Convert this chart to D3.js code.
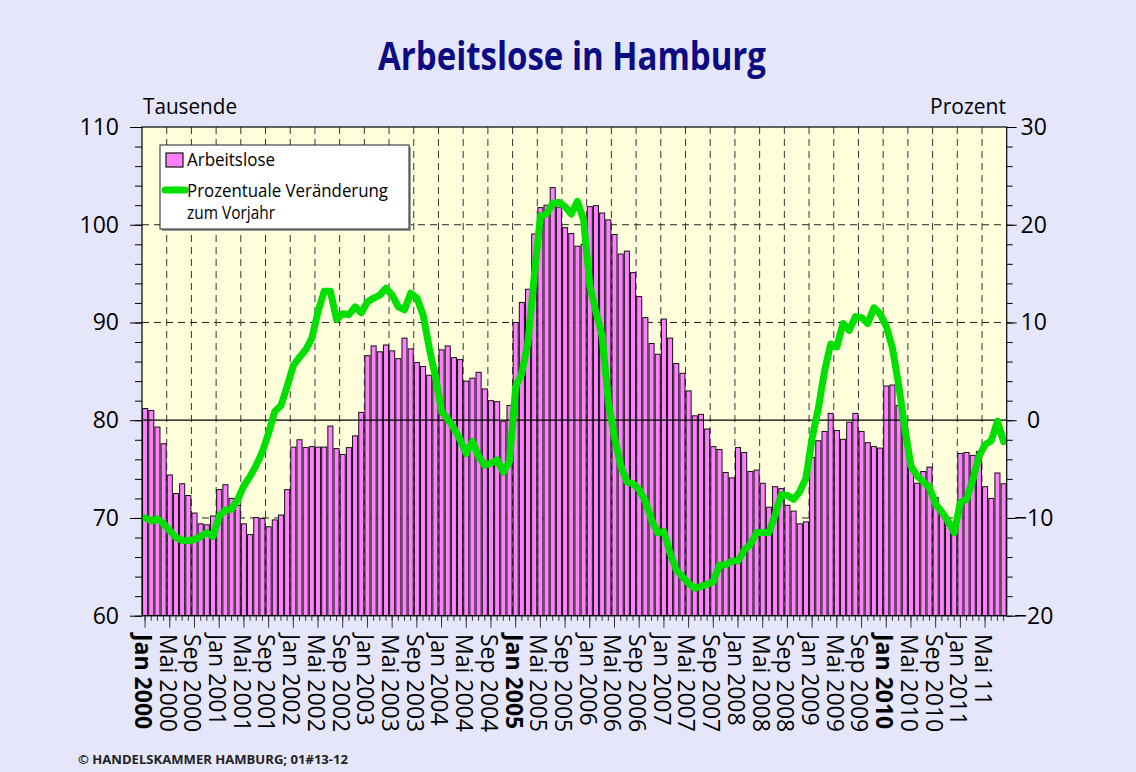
<!DOCTYPE html>
<html><head><meta charset="utf-8">
<script src="https://cdn.jsdelivr.net/npm/d3@7"></script>
<style>
html,body{margin:0;padding:0;background:#E6E6FA;}
svg{display:block;font-family:"Open Sans","Liberation Sans",Arial,sans-serif;}
</style></head>
<body>
<svg id="c" width="1136" height="772"></svg>
<script>
// Arbeitslose in Hamburg (Tausende), monthly Jan 2000 - Aug 2011
const arbeitslose = [
  81.2, 81.0, 79.3, 77.6, 74.4, 72.5, 73.5, 72.3, 70.5, 69.4, 69.3, 70.2,
  72.9, 73.4, 72.0, 71.3, 69.4, 68.3, 70.05, 69.95, 69.1, 69.8, 70.3, 72.9,
  77.25, 78.0, 77.2, 77.3, 77.25, 77.25, 79.4, 77.1, 76.5, 77.2, 78.4, 80.8,
  86.6, 87.6, 87.0, 87.7, 87.1, 86.3, 88.4, 87.3, 85.9, 85.5, 84.6, 84.2,
  87.2, 87.6, 86.4, 86.2, 84.0, 84.3, 84.9, 83.2, 82.0, 81.9, 79.9, 81.5,
  90.0, 92.05, 93.4, 99.05, 101.75, 102.0, 103.8, 101.8, 99.7, 99.1, 97.8, 98.0,
  101.85, 101.95, 101.2, 100.5, 99.0, 97.0, 97.3, 95.1, 92.65, 90.5, 87.85, 86.75,
  90.35, 88.4, 85.8, 84.8, 83.0, 80.45, 80.6, 79.1, 77.3, 77.0, 74.65, 74.1,
  77.2, 76.7, 74.75, 74.9, 73.55, 71.1, 73.2, 73.0, 71.3, 70.7, 69.4, 69.6,
  76.2, 77.9, 78.85, 80.7, 78.95, 78.05, 79.8, 80.7, 78.85, 77.7, 77.3, 77.15,
  83.5, 83.6, 81.5, 79.8, 75.2, 73.55, 74.75, 75.2, 72.1, 70.4, 69.3, 68.3,
  76.6, 76.7, 76.4, 76.8, 73.2, 72.0, 74.6, 73.5
];
// Prozentuale Veränderung zum Vorjahr
const veraenderung = [
  -10.0, -10.3, -10.1, -10.6, -11.3, -12.0, -12.3, -12.3, -12.2, -11.9, -11.5, -11.9,
  -9.8, -9.2, -9.1, -8.1, -6.7, -5.75, -4.6, -3.2, -1.3, 0.9, 1.5, 3.45,
  5.6, 6.45, 7.2, 8.4, 11.1, 13.2, 13.2, 10.3, 10.9, 10.8, 11.6, 11.0,
  12.1, 12.5, 12.8, 13.5, 12.8, 11.6, 11.3, 13.0, 12.5, 10.8, 7.4, 4.5,
  0.9, 0.1, -0.8, -2.0, -3.4, -2.2, -3.7, -4.6, -4.4, -4.05, -5.3, -4.2,
  3.4, 4.8, 8.05, 14.7, 20.9, 21.1, 22.2, 22.3, 21.85, 21.1, 22.4, 20.5,
  13.8, 11.1, 8.6, 1.9, -1.8, -4.6, -6.3, -6.5, -7.1, -8.3, -10.2, -11.5,
  -11.4, -13.6, -15.3, -16.0, -16.7, -17.2, -17.0, -16.8, -16.5, -14.8, -14.8, -14.4,
  -14.4, -13.3, -12.7, -11.5, -11.5, -11.5, -9.7, -7.6, -7.7, -8.1, -7.3, -5.9,
  -1.8, 1.2, 5.0, 7.8, 7.5, 9.9, 9.2, 10.6, 10.5, 9.9, 11.5, 10.9,
  9.6, 7.4, 3.6, -0.8, -4.7, -5.7, -6.3, -6.9, -8.6, -9.4, -10.3, -11.5,
  -8.4, -8.1, -6.1, -3.7, -2.5, -2.1, -0.1, -2.2
];
// x tick labels every 4 months
const tickLabels = [
  "Jan 2000","Mai 2000","Sep 2000","Jan 2001","Mai 2001","Sep 2001",
  "Jan 2002","Mai 2002","Sep 2002","Jan 2003","Mai 2003","Sep 2003",
  "Jan 2004","Mai 2004","Sep 2004","Jan 2005","Mai 2005","Sep 2005",
  "Jan 2006","Mai 2006","Sep 2006","Jan 2007","Mai 2007","Sep 2007",
  "Jan 2008","Mai 2008","Sep 2008","Jan 2009","Mai 2009","Sep 2009",
  "Jan 2010","Mai 2010","Sep 2010","Jan 2011","Mai 11"
];
const boldLabels = ["Jan 2000","Jan 2005","Jan 2010"];
const leftTicks = [60,70,80,90,100,110];
const rightTicks = [-20,-10,0,10,20,30];

const svg = d3.select("#c");
const X0 = 142, X1 = 1006.7, Y0 = 127, Y1 = 615.7;
const n = arbeitslose.length;
const idx = d3.range(n);

const xs = d3.scaleBand().domain(idx).range([X0, X1]).padding(0);
const xb = d3.scaleBand().domain(idx).range([X0, X1]).paddingInner(0.18).paddingOuter(0.09);
const yL = d3.scaleLinear().domain([60,110]).range([Y1, Y0]);
const yR = d3.scaleLinear().domain([-20,30]).range([Y1, Y0]);

// Title
svg.append("text").attr("x", 572).attr("y", 70).attr("text-anchor","middle")
  .attr("font-size", 40).attr("font-weight","bold").attr("fill","#0b0b82")
  .attr("textLength", 388).attr("lengthAdjust","spacingAndGlyphs")
  .text("Arbeitslose in Hamburg");

svg.append("text").attr("x", 143).attr("y", 114).attr("font-size", 22)
  .attr("textLength", 94).attr("lengthAdjust","spacingAndGlyphs").text("Tausende");
svg.append("text").attr("x", 1006).attr("y", 114).attr("font-size", 22).attr("text-anchor","end")
  .attr("textLength", 76).attr("lengthAdjust","spacingAndGlyphs").text("Prozent");

// Plot background
svg.append("rect").attr("x", X0).attr("y", Y0).attr("width", X1-X0).attr("height", Y1-Y0)
  .attr("fill", "#FFFFDC");

// Grid (behind bars)
const grid = svg.append("g").attr("stroke","#222").attr("stroke-width",1).attr("stroke-dasharray","7,5");
grid.selectAll("line.h").data([70,90,100]).join("line")
  .attr("x1", X0).attr("x2", X1).attr("y1", d=>yL(d)).attr("y2", d=>yL(d));
const labelIdx = tickLabels.map((t,i)=>i*4);
grid.selectAll("line.v").data(labelIdx.filter(i=>i>0)).join("line")
  .attr("x1", d=>xs(d)).attr("x2", d=>xs(d)).attr("y1", Y0).attr("y2", Y1)
  .attr("stroke","#333");

// Bars
svg.append("g").selectAll("rect").data(arbeitslose).join("rect")
  .attr("x", (d,i)=>xb(i)).attr("width", xb.bandwidth())
  .attr("y", d=>yL(d)).attr("height", d=>yL(60)-yL(d))
  .attr("fill","#FF80FF").attr("stroke","#111").attr("stroke-width",1);

// zero line of right axis
svg.append("line").attr("x1",X0).attr("x2",X1).attr("y1",yR(0)).attr("y2",yR(0))
  .attr("stroke","#000").attr("stroke-width",1.2);

// Green line
const line = d3.line().x((d,i)=>xs(i)+xs.bandwidth()/2).y(d=>yR(d)).curve(d3.curveLinear);
svg.append("path").datum(veraenderung).attr("d", line).attr("fill","none")
  .attr("stroke","#00E000").attr("stroke-width",7).attr("stroke-linejoin","round").attr("stroke-linecap","round");

// Frame
svg.append("rect").attr("x", X0).attr("y", Y0).attr("width", X1-X0).attr("height", Y1-Y0)
  .attr("fill","none").attr("stroke","#000").attr("stroke-width",1.2);

const FONT = "Open Sans, Liberation Sans, Arial, sans-serif";
// Left axis
const leftMinor = d3.axisLeft(yL).tickValues(d3.range(60,111,2)).tickSize(7).tickFormat("");
const leftMajor = d3.axisLeft(yL).tickValues(leftTicks).tickSize(12).tickPadding(11).tickFormat(d=>String(d));
const gl1 = svg.append("g").attr("transform",`translate(${X0},0)`).call(leftMinor);
const gl2 = svg.append("g").attr("transform",`translate(${X0},0)`).call(leftMajor);
[gl1,gl2].forEach(g=>{g.select(".domain").remove(); g.selectAll("line").attr("stroke","#000");});
gl2.selectAll("text").attr("font-size",23).attr("font-family",FONT).attr("fill","#000");

// Right axis
const rightMinor = d3.axisRight(yR).tickValues(d3.range(-20,31,2)).tickSize(6).tickFormat("");
const rightMajor = d3.axisRight(yR).tickValues(rightTicks).tickSize(10).tickPadding(6);
const gr1 = svg.append("g").attr("transform",`translate(${X1},0)`).call(rightMinor);
const gr2 = svg.append("g").attr("transform",`translate(${X1},0)`).call(rightMajor);
[gr1,gr2].forEach(g=>{g.select(".domain").remove(); g.selectAll("line").attr("stroke","#000");});
gr2.selectAll("text").attr("font-size",23).attr("font-family",FONT)
  .attr("fill","#000").attr("text-anchor","middle").attr("x", 27);

// Bottom axis ticks
const xMinor = d3.axisBottom(xs).tickValues(idx).tickSize(5).tickFormat("");
const xMajor = d3.axisBottom(xs).tickValues(labelIdx).tickSize(12).tickFormat("");
const gb1 = svg.append("g").attr("transform",`translate(0,${Y1})`).call(xMinor);
const gb2 = svg.append("g").attr("transform",`translate(0,${Y1})`).call(xMajor);
[gb1,gb2].forEach(g=>{g.select(".domain").remove(); g.selectAll("line").attr("stroke","#333");});

// Rotated x labels
svg.append("g").selectAll("text").data(tickLabels).join("text")
  .attr("transform",(d,i)=>`translate(${xs(labelIdx[i])+1},634) rotate(90)`)
  .attr("dy","0.35em").attr("font-size",23)
  .attr("font-weight", d=>boldLabels.includes(d)?"bold":"normal")
  .attr("fill","#000").text(d=>d);

// Legend
const lg = svg.append("g");
lg.append("rect").attr("x",162).attr("y",147).attr("width",249).attr("height",84).attr("fill","#999");
lg.append("rect").attr("x",160).attr("y",145).attr("width",249).attr("height",84)
  .attr("fill","#fff").attr("stroke","#222").attr("stroke-width",1);
lg.append("rect").attr("x",166).attr("y",153).attr("width",17).attr("height",14)
  .attr("fill","#FF80FF").attr("stroke","#111").attr("stroke-width",1.2);
lg.append("line").attr("x1",165).attr("x2",185).attr("y1",190).attr("y2",190)
  .attr("stroke","#00E000").attr("stroke-width",7).attr("stroke-linecap","round");
lg.append("text").attr("x",187).attr("y",166).attr("font-size",18)
  .attr("textLength",88).attr("lengthAdjust","spacingAndGlyphs").text("Arbeitslose");
lg.append("text").attr("x",187).attr("y",197).attr("font-size",18)
  .attr("textLength",201).attr("lengthAdjust","spacingAndGlyphs").text("Prozentuale Veränderung");
lg.append("text").attr("x",187).attr("y",219).attr("font-size",18)
  .attr("textLength",88).attr("lengthAdjust","spacingAndGlyphs").text("zum Vorjahr");

// Footer
svg.append("text").attr("x",78).attr("y",764).attr("font-size",12).attr("font-weight","bold")
  .attr("fill","#222").attr("textLength",270).attr("lengthAdjust","spacingAndGlyphs")
  .text("© HANDELSKAMMER HAMBURG;  01#13-12");
</script>
</body></html>
